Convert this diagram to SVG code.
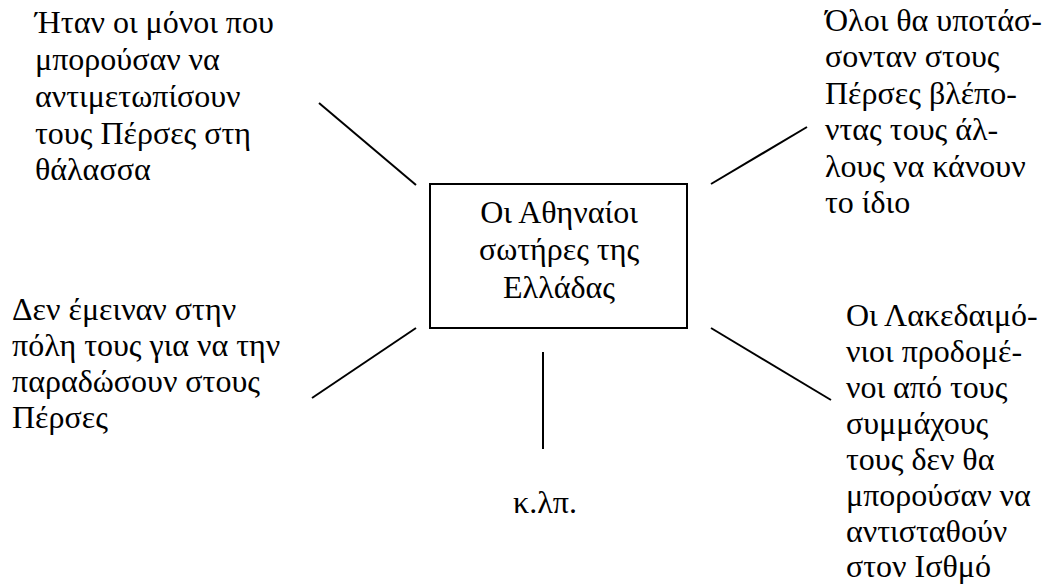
<svg xmlns="http://www.w3.org/2000/svg" width="1046" height="584" viewBox="0 0 1046 584">
<style>
text{font-family:"Liberation Serif","DejaVu Serif",serif;font-size:32px;fill:#000}
.c{text-anchor:middle}
.ln{stroke:#000;stroke-width:2;fill:none}
</style>
<rect width="1046" height="584" fill="#fff"/>
<g id="connectors">
<line class="ln" x1="319" y1="103" x2="416" y2="185"/>
<line class="ln" x1="711" y1="184" x2="807" y2="127"/>
<line class="ln" x1="416" y1="328" x2="312" y2="398"/>
<line class="ln" x1="711" y1="328" x2="831" y2="400"/>
<line class="ln" x1="543" y1="352" x2="543" y2="449"/>
</g>
<g id="center">
<rect x="430" y="184" width="257" height="144" fill="#fff" stroke="#000" stroke-width="2"/>
<text class="c" x="559" y="223">Οι Αθηναίοι</text>
<text class="c" x="559" y="260">σωτήρες της</text>
<text class="c" x="559" y="298">Ελλάδας</text>
</g>
<g id="topleft">
<text x="35" y="33">Ήταν οι μόνοι που</text>
<text x="35" y="70">μπορούσαν να</text>
<text x="35" y="107">αντιμετωπίσουν</text>
<text x="35" y="144">τους Πέρσες στη</text>
<text x="35" y="180">θάλασσα</text>
</g>
<g id="topright">
<text x="825" y="31">Όλοι θα υποτάσ-</text>
<text x="825" y="67">σονταν στους</text>
<text x="825" y="104">Πέρσες βλέπο-</text>
<text x="825" y="140">ντας τους άλ-</text>
<text x="825" y="177">λους να κάνουν</text>
<text x="825" y="213">το ίδιο</text>
</g>
<g id="bottomleft">
<text x="12" y="320">Δεν έμειναν στην</text>
<text x="12" y="356">πόλη τους για να την</text>
<text x="12" y="392">παραδώσουν στους</text>
<text x="12" y="428">Πέρσες</text>
</g>
<g id="bottomright">
<text x="846" y="326">Οι Λακεδαιμό-</text>
<text x="846" y="362">νιοι προδομέ-</text>
<text x="846" y="398">νοι από τους</text>
<text x="846" y="434">συμμάχους</text>
<text x="846" y="470">τους δεν θα</text>
<text x="846" y="506">μπορούσαν να</text>
<text x="846" y="542">αντισταθούν</text>
<text x="846" y="577">στον Ισθμό</text>
</g>
<g id="etc">
<text class="c" x="545" y="513">κ.λπ.</text>
</g>
</svg>
